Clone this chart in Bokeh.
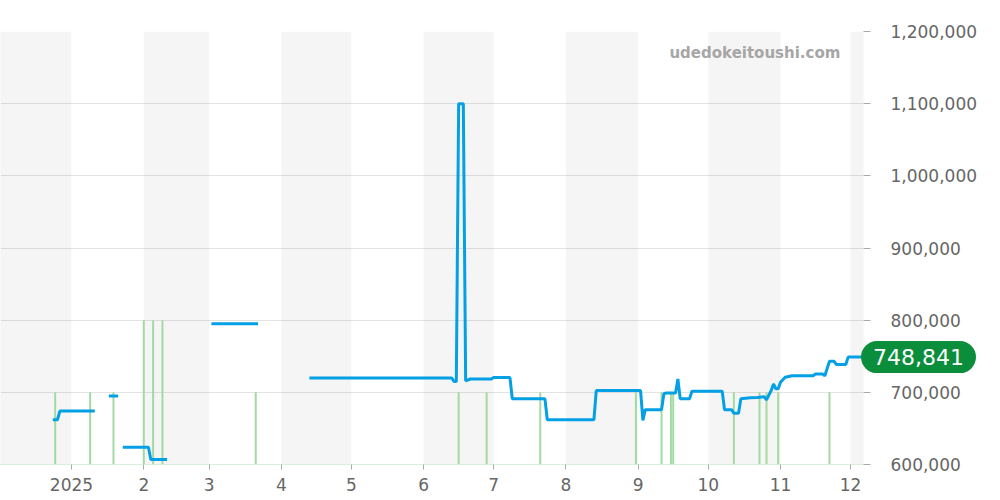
import numpy as np
import pandas as pd
from bokeh.plotting import figure
from bokeh.models import (Range1d, FixedTicker, NumeralTickFormatter, BoxAnnotation,
                          Label, ColumnDataSource, GlobalInlineStyleSheet)
from bokeh.embed import file_html
from bokeh.resources import INLINE

# ---------------- data ----------------
price_dates = [
    "2024-12-24", "2024-12-26", "2024-12-27", "2025-01-11", None,
    "2025-01-17", "2025-01-21", None,
    "2025-01-23", "2025-02-03", "2025-02-04", "2025-02-11", None,
    "2025-03-02", "2025-03-22", None,
    "2025-04-13", "2025-06-13", "2025-06-14", "2025-06-15", "2025-06-16", "2025-06-18",
    "2025-06-19", "2025-06-21", "2025-06-30", "2025-07-01", "2025-07-08", "2025-07-09",
    "2025-07-23", "2025-07-24", "2025-08-13", "2025-08-14", "2025-09-02", "2025-09-03",
    "2025-09-04", "2025-09-11", "2025-09-12", "2025-09-13", "2025-09-17", "2025-09-18",
    "2025-09-19", "2025-09-23", "2025-09-24", "2025-10-07", "2025-10-08", "2025-10-11",
    "2025-10-12", "2025-10-14", "2025-10-15", "2025-10-19", "2025-10-22", "2025-10-25",
    "2025-10-26", "2025-10-28", "2025-10-29", "2025-10-30", "2025-10-31", "2025-11-01",
    "2025-11-03", "2025-11-06", "2025-11-15", "2025-11-16", "2025-11-19", "2025-11-20",
    "2025-11-22", "2025-11-24", "2025-11-25", "2025-11-29", "2025-11-30", "2025-12-06",
]
price_values = [
    662000, 662000, 674000, 674000, None,
    695000, 695000, None,
    624000, 624000, 607000, 607000, None,
    795000, 795000, None,
    720000, 720000, 715000, 715000, 1100000, 1100000,
    716000, 718500, 718500, 720500, 720500, 691000,
    691000, 662000, 662000, 702500, 702500, 661000,
    676000, 676000, 698000, 699000, 699000, 718500,
    691000, 691000, 701500, 701500, 676000, 676000,
    671000, 671000, 691000, 692500, 693000, 694000,
    689500, 702500, 711500, 705000, 705000, 714000,
    721000, 723000, 723000, 725500, 725500, 723000,
    743000, 743000, 738500, 738500, 748841, 748841,
]

vol_dates = [
    "2024-12-25", "2025-01-09", "2025-01-19", "2025-02-01", "2025-02-05", "2025-02-09",
    "2025-03-21", "2025-06-16", "2025-06-28", "2025-07-21", "2025-08-31", "2025-09-11",
    "2025-09-15", "2025-09-16", "2025-10-12", "2025-10-23", "2025-10-26", "2025-10-31",
    "2025-11-22",
]
vol_counts = [1, 1, 1, 2, 2, 2, 1, 1, 1, 1, 1, 1, 1, 1, 1, 1, 1, 1, 1]

tick_dates = ["2025-01-01", "2025-02-01", "2025-03-01", "2025-04-01", "2025-05-01",
              "2025-06-01", "2025-07-01", "2025-08-01", "2025-09-01", "2025-10-01",
              "2025-11-01", "2025-12-01"]
tick_labels = ["2025", "2", "3", "4", "5", "6", "7", "8", "9", "10", "11", "12"]

last_price = 748841
watermark = "udedokeitoushi.com"


def ms(s):
    return float(pd.Timestamp(s).value // 10**6)


# ---------------- figure ----------------
x_start = ms("2024-12-01 13:30")
x_end = ms("2025-12-06 14:00")

p = figure(width=1000, height=500, x_axis_type="datetime", y_axis_location="right",
           x_range=Range1d(x_start, x_end), y_range=Range1d(600000, 1200000),
           output_backend="svg", toolbar_location=None,
           min_border_left=0, min_border_right=137, min_border_top=31, min_border_bottom=36)
p.outline_line_color = None
p.background_fill_color = "white"
p.border_fill_color = "white"
p.stylesheets = [GlobalInlineStyleSheet(css="html, body { margin: 0; padding: 0; overflow: hidden; }")]

# alternating month bands
month_starts = pd.date_range("2024-12-01", "2026-01-01", freq="MS")
for i in range(0, len(month_starts) - 1, 2):
    p.add_layout(BoxAnnotation(left=ms(month_starts[i]), right=ms(month_starts[i + 1]),
                               fill_color="#000000", fill_alpha=0.04, line_color=None,
                               level="underlay"))

# grid
p.xgrid.visible = False
p.ygrid.grid_line_color = "#e3e3e3"
p.ygrid.grid_line_width = 1

# volume bars on hidden range
p.extra_y_ranges = {"vol": Range1d(0, 6)}
vsrc = ColumnDataSource(dict(x=[ms(d) for d in vol_dates], y0=[0] * len(vol_counts), y1=vol_counts))
p.segment(x0="x", y0="y0", x1="x", y1="y1", source=vsrc, y_range_name="vol",
          line_color="#a3d9a3", line_width=2)

# price line
px = [ms(d) if d is not None else np.nan for d in price_dates]
py = [v if v is not None else np.nan for v in price_values]
p.line(x=px, y=py, line_color="#03a0e6", line_width=3)

# axes
p.xaxis.ticker = FixedTicker(ticks=[ms(d) for d in tick_dates])
p.xaxis.major_label_overrides = {int(ms(d)): lab for d, lab in zip(tick_dates, tick_labels)}
p.xaxis.major_label_text_font = "DejaVu Sans"
p.xaxis.major_label_text_font_size = "17px"
p.xaxis.major_label_text_color = "#666666"
p.xaxis.major_tick_out = 5
p.xaxis.major_tick_in = 0
p.xaxis.major_tick_line_color = "#aaaaaa"
p.xaxis.minor_tick_line_color = None
p.xaxis.axis_line_color = "#b5e0b5"
p.xaxis.axis_line_dash = "1 1"
p.xaxis.major_label_standoff = 8

p.yaxis.ticker = FixedTicker(ticks=[600000, 700000, 800000, 900000, 1000000, 1100000, 1200000])
p.yaxis.formatter = NumeralTickFormatter(format="0,0")
p.yaxis.major_label_text_font = "DejaVu Sans"
p.yaxis.major_label_text_font_size = "17px"
p.yaxis.major_label_text_color = "#666666"
p.yaxis.major_tick_out = 7
p.yaxis.major_tick_in = 0
p.yaxis.major_tick_line_color = "#aaaaaa"
p.yaxis.minor_tick_line_color = None
p.yaxis.axis_line_color = None
p.yaxis.major_label_standoff = 20

# watermark
p.add_layout(Label(x=ms("2025-11-26 16:00"), y=1170000, text=watermark,
                   text_align="right", text_baseline="middle",
                   text_font="DejaVu Sans", text_font_size="15px", text_font_style="bold",
                   text_color="#a6a6a6"))

# last price badge (placed in a side panel so that it is not clipped to the frame)
badge = Label(x=x_end, y=last_price, x_offset=55, text=f"{last_price:,}",
              text_align="center", text_baseline="middle",
              text_font="DejaVu Sans", text_font_size="22px", text_color="white",
              background_fill_color="#0b8e3c", padding=(8, 8, 4, 4), border_radius=16,
              border_line_color="#0b8e3c", border_line_width=8)
p.add_layout(badge, "above")

open("out.html", "w").write(file_html(p, INLINE))
